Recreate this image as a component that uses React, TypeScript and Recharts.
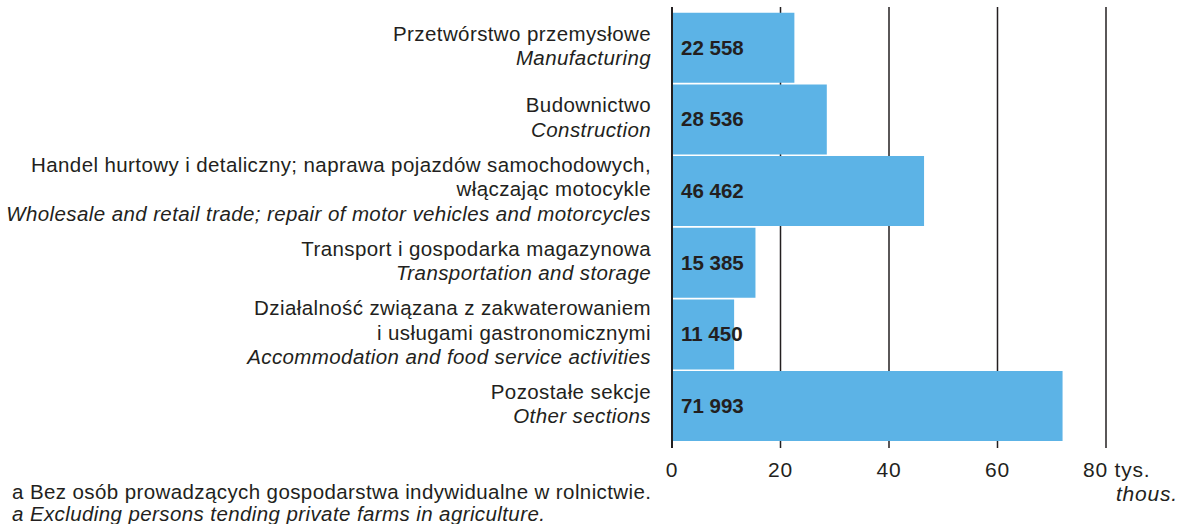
import { BarChart, Bar, XAxis, YAxis, CartesianGrid, LabelList } from 'recharts';

const INK = '#231f20';
const BAR_BLUE = '#5cb3e6';
const FONT = '"Liberation Sans", Arial, Helvetica, sans-serif';

// category labels: Polish lines, then English (italic) line
const labelsPl = [
  ['Przetwórstwo przemysłowe'],
  ['Budownictwo'],
  ['Handel hurtowy i detaliczny; naprawa pojazdów samochodowych,', 'włączając motocykle'],
  ['Transport i gospodarka magazynowa'],
  ['Działalność związana z zakwaterowaniem', 'i usługami gastronomicznymi'],
  ['Pozostałe sekcje'],
];
const labelsEn = [
  'Manufacturing',
  'Construction',
  'Wholesale and retail trade; repair of motor vehicles and motorcycles',
  'Transportation and storage',
  'Accommodation and food service activities',
  'Other sections',
];
const employed = [22558, 28536, 46462, 15385, 11450, 71993];
const xTicks = [0, 20, 40, 60, 80];

const data = employed.map((v, i) => ({
  key: String(i),
  value: v / 1000,
}));

const fmt = (n: number) => String(n).replace(/\B(?=(\d{3})+(?!\d))/g, ' ');

function CategoryTick(props: any) {
  const { x, y, payload } = props;
  const i = Number(payload.value);
  const lines = [...labelsPl[i].map((t) => ({ t, it: false })), { t: labelsEn[i], it: true }];
  const n = lines.length;
  const lh = 24.5;
  return (
    <g>
      {lines.map((l, k) => (
        <text
          key={k}
          x={x - 13}
          y={y + (k - (n - 1) / 2) * lh + 5}
          textAnchor="end"
          fontSize={20.5}
          letterSpacing={0.4}
          fontStyle={l.it ? 'italic' : 'normal'}
          fill={INK}
          fontFamily={FONT}
        >
          {l.t}
        </text>
      ))}
    </g>
  );
}

function ValueTick(props: any) {
  const { x, payload } = props;
  const v = payload.value;
  const base = 477;
  if (v === 80) {
    return (
      <g fontFamily={FONT} fontSize={21} fill={INK} letterSpacing={0.8}>
        <text x={x - 23} y={base} textAnchor="start">
          80 tys.
        </text>
        <text x={1178} y={base + 24} textAnchor="end" fontStyle="italic">
          thous.
        </text>
      </g>
    );
  }
  return (
    <text x={x} y={base} textAnchor="middle" fontSize={21} letterSpacing={0.8} fill={INK} fontFamily={FONT}>
      {v}
    </text>
  );
}

function ValueLabel(props: any) {
  const { x, y, height, index } = props;
  return (
    <text
      x={x + 9}
      y={y + height / 2 + 7}
      fontSize={20.5}
      fontWeight="bold"
      fill={INK}
      fontFamily={FONT}
    >
      {fmt(employed[index])}
    </text>
  );
}

export default function App() {
  return (
    <div style={{ position: 'absolute', left: 0, top: 0, width: 1190, height: 524, background: '#fff' }}>
      <BarChart
        width={1190}
        height={524}
        data={data}
        layout="vertical"
        margin={{ top: 7, right: 84, bottom: 0, left: 0 }}
        barCategoryGap="1%"
      >
        <CartesianGrid horizontal={false} stroke={INK} strokeWidth={1.5} />
        <XAxis
          type="number"
          domain={[0, 80]}
          ticks={xTicks}
          axisLine={false}
          tickLine={false}
          height={76}
          tick={<ValueTick />}
          interval={0}
        />
        <YAxis
          type="category"
          dataKey="key"
          width={672}
          axisLine={{ stroke: INK, strokeWidth: 2 }}
          tickLine={false}
          tick={<CategoryTick />}
          interval={0}
          padding={{ top: 5, bottom: 6 }}
        />
        <Bar dataKey="value" fill={BAR_BLUE} isAnimationActive={false}>
          <LabelList dataKey="value" content={<ValueLabel />} />
        </Bar>
      </BarChart>
      <div
        style={{
          position: 'absolute',
          left: 12,
          top: 481,
          fontFamily: FONT,
          fontSize: 20.5,
          letterSpacing: 0.4,
          lineHeight: '22px',
          color: INK,
          whiteSpace: 'nowrap',
        }}
      >
        <div>a Bez osób prowadzących gospodarstwa indywidualne w rolnictwie.</div>
        <div style={{ fontStyle: 'italic' }}>a Excluding persons tending private farms in agriculture.</div>
      </div>
    </div>
  );
}
